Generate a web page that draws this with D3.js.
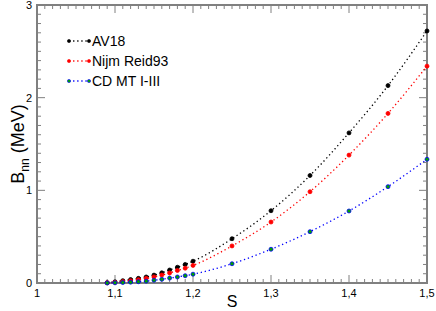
<!DOCTYPE html>
<html>
<head>
<meta charset="utf-8">
<script src="https://cdn.jsdelivr.net/npm/d3@7"></script>
<style>
  body { margin: 0; background: #fff; }
  svg { display: block; font-family: "Liberation Sans", Arial, sans-serif; }
</style>
</head>
<body>
<svg id="chart" width="436" height="311"></svg>
<script>
// s values (point positions)
const sValues = [1.09, 1.10, 1.11, 1.12, 1.13, 1.14, 1.15, 1.16, 1.17, 1.18, 1.19, 1.20,
                 1.25, 1.30, 1.35, 1.40, 1.45, 1.50];

// B_nn (MeV) per potential
const av18 = [0.004, 0.013, 0.025, 0.037, 0.05, 0.065, 0.085, 0.11, 0.14, 0.17, 0.2, 0.235,
              0.478, 0.78, 1.16, 1.62, 2.13, 2.72];
const nijm = [0.002, 0.007, 0.015, 0.025, 0.036, 0.05, 0.066, 0.086, 0.108, 0.135, 0.16, 0.19,
              0.40, 0.658, 0.985, 1.38, 1.83, 2.34];
const cdmt = [0.0, 0.002, 0.005, 0.009, 0.014, 0.02, 0.03, 0.04, 0.053, 0.065, 0.079, 0.095,
              0.208, 0.364, 0.554, 0.777, 1.04, 1.335];

const seriesNames = ["AV18", "Nijm Reid93", "CD MT I-III"];
const xTicks = [1, 1.1, 1.2, 1.3, 1.4, 1.5];
const yTicks = [0, 1, 2, 3];

const series = [
  { name: seriesNames[0], values: av18, line: "#000", fill: "#000", stroke: "#000" },
  { name: seriesNames[1], values: nijm, line: "#ff0000", fill: "#ff0000", stroke: "#ff0000" },
  { name: seriesNames[2], values: cdmt, line: "#0000ff", fill: "#00a000", stroke: "#0000ff" }
];

const svg = d3.select("#chart");
const m = { left: 37, right: 9, top: 5, bottom: 28 };
const W = 436, H = 311;

const x = d3.scaleLinear().domain([1, 1.5]).range([m.left, W - m.right]);
const y = d3.scaleLinear().domain([0, 3]).range([H - m.bottom, m.top]);

const axisColor = "#808080";

// ticks (inside, on all four sides)
const gTicks = svg.append("g").attr("stroke", axisColor).attr("stroke-width", 1);
const xMinor = d3.range(1, 1.5001, 0.01);
const yMinor = d3.range(0, 3.0001, 0.1);

xMinor.forEach(v => {
  const major = Math.abs(v * 10 - Math.round(v * 10)) < 1e-6;
  const len = major ? 8 : 4;
  gTicks.append("line").attr("x1", x(v)).attr("x2", x(v))
    .attr("y1", y(0)).attr("y2", y(0) - len);
  gTicks.append("line").attr("x1", x(v)).attr("x2", x(v))
    .attr("y1", y(3)).attr("y2", y(3) + len);
});
yMinor.forEach(v => {
  const major = Math.abs(v - Math.round(v)) < 1e-6;
  const len = major ? 8 : 4;
  gTicks.append("line").attr("y1", y(v)).attr("y2", y(v))
    .attr("x1", x(1)).attr("x2", x(1) + len);
  gTicks.append("line").attr("y1", y(v)).attr("y2", y(v))
    .attr("x1", x(1.5)).attr("x2", x(1.5) - len);
});

// frame
svg.append("rect")
  .attr("x", x(1)).attr("y", y(3))
  .attr("width", x(1.5) - x(1)).attr("height", y(0) - y(3))
  .attr("fill", "none").attr("stroke", axisColor).attr("stroke-width", 2);

// tick labels
svg.append("g").selectAll("text").data(xTicks).enter().append("text")
  .attr("x", d => x(d)).attr("y", y(0) + 14)
  .attr("text-anchor", "middle").attr("font-size", 11)
  .text(d => d3.format(".1~f")(d).replace(".", ","));

svg.append("g").selectAll("text").data(yTicks).enter().append("text")
  .attr("x", x(1) - 5).attr("y", d => y(d) + 4)
  .attr("text-anchor", "end").attr("font-size", 11)
  .text(d => d);

// axis titles
svg.append("text")
  .attr("x", (x(1) + x(1.5)) / 2).attr("y", 307)
  .attr("text-anchor", "middle").attr("font-size", 16)
  .text("S");

const yl = svg.append("text")
  .attr("transform", `translate(24, ${(y(0) + y(3)) / 2}) rotate(-90)`)
  .attr("text-anchor", "middle").attr("font-size", 18);
yl.append("tspan").text("B");
yl.append("tspan").attr("font-size", 12).attr("dy", 5).text("nn");
yl.append("tspan").attr("dy", -5).text(" (MeV)");

// lines and points
const line = d3.line()
  .x((d, i) => x(sValues[i]))
  .y(d => y(d))
  .curve(d3.curveMonotoneX);

series.forEach(s => {
  svg.append("path")
    .attr("d", line(s.values))
    .attr("fill", "none")
    .attr("stroke", s.line)
    .attr("stroke-width", 1.3)
    .attr("stroke-dasharray", "1.3,2.8");
  svg.append("g").selectAll("circle").data(s.values).enter().append("circle")
    .attr("cx", (d, i) => x(sValues[i]))
    .attr("cy", d => y(d))
    .attr("r", 2)
    .attr("fill", s.fill)
    .attr("stroke", s.stroke)
    .attr("stroke-width", 0.8);
});

// legend
const legend = svg.append("g");
series.forEach((s, i) => {
  const ly = 41 + i * 20;
  legend.append("line")
    .attr("x1", 69).attr("x2", 89).attr("y1", ly).attr("y2", ly)
    .attr("stroke", s.line).attr("stroke-width", 1.3)
    .attr("stroke-dasharray", "1.3,2.8");
  [69, 89].forEach(cx => legend.append("circle")
    .attr("cx", cx).attr("cy", ly).attr("r", 1.6)
    .attr("fill", s.fill).attr("stroke", s.stroke).attr("stroke-width", 0.6));
  legend.append("text")
    .attr("x", 92).attr("y", ly + 5)
    .attr("font-size", 14)
    .text(s.name);
});
</script>
</body>
</html>
